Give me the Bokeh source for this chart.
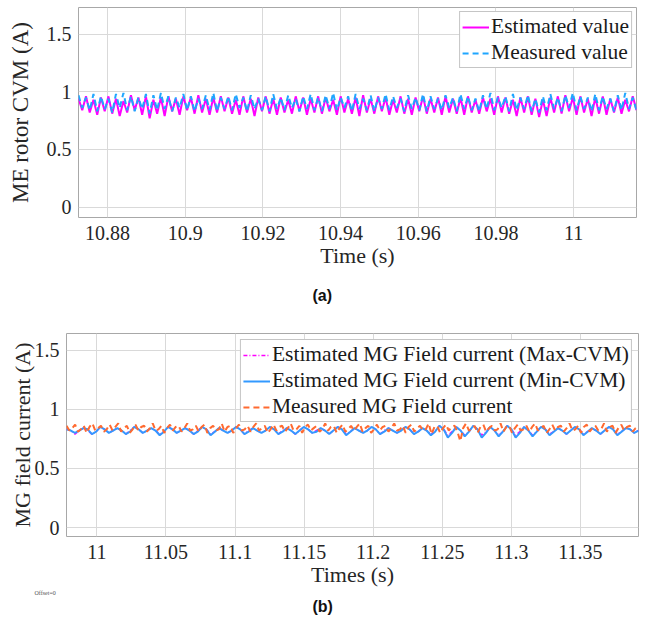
import numpy as np
from bokeh.plotting import figure
from bokeh.layouts import column, row
from bokeh.models import Range1d, FixedTicker, Title
from bokeh.embed import file_html
from bokeh.resources import INLINE

# ---------------- data: panel (a) ----------------
a_t_start, a_t_end = 10.8725, 11.0162
a_xticks = [10.88, 10.9, 10.92, 10.94, 10.96, 10.98, 11.0]
a_xlabels = ["10.88", "10.9", "10.92", "10.94", "10.96", "10.98", "11"]
yticks = [0, 0.5, 1, 1.5]
ylabels = ["0", "0.5", "1", "1.5"]

a_estimated = [
    0.94, 0.84, 0.96, 0.82, 0.93, 0.80, 0.95, 0.83, 0.96, 0.81, 0.94, 0.79, 0.92, 0.82, 0.97, 0.84, 0.95, 0.80, 0.96, 0.77,
    0.93, 0.81, 0.95, 0.79, 0.96, 0.83, 0.94, 0.80, 0.96, 0.84, 0.95, 0.81, 0.97, 0.82, 0.94, 0.80, 0.95, 0.82, 0.96, 0.83,
    0.95, 0.81, 0.93, 0.80, 0.96, 0.82, 0.94, 0.79, 0.95, 0.83, 0.96, 0.81, 0.94, 0.80, 0.95, 0.82, 0.93, 0.81, 0.96, 0.83,
    0.95, 0.80, 0.94, 0.82, 0.96, 0.81, 0.95, 0.83, 0.93, 0.80, 0.96, 0.82, 0.94, 0.81, 0.95, 0.79, 0.97, 0.82, 0.94, 0.81,
    0.96, 0.83, 0.95, 0.80, 0.93, 0.82, 0.96, 0.81, 0.94, 0.80, 0.95, 0.83, 0.96, 0.81, 0.94, 0.82, 0.95, 0.80, 0.96, 0.82,
    0.94, 0.81, 0.95, 0.80, 0.96, 0.82, 0.93, 0.81, 0.95, 0.83, 0.94, 0.80, 0.96, 0.82, 0.95, 0.81, 0.93, 0.79, 0.95, 0.82,
    0.96, 0.80, 0.94, 0.78, 0.93, 0.79, 0.95, 0.82, 0.96, 0.81, 0.97, 0.83, 0.95, 0.80, 0.96, 0.82, 0.94, 0.79, 0.95, 0.81,
    0.96, 0.80, 0.94, 0.82, 0.95, 0.81, 0.93, 0.83, 0.96, 0.84,
]
a_measured = [
    0.97, 0.86, 0.95, 0.84, 0.98, 0.83, 0.96, 0.85, 0.94, 0.82, 0.98, 0.86, 0.99, 0.84, 0.96, 0.83, 0.95, 0.85, 0.98, 0.81,
    0.97, 0.84, 0.99, 0.85, 0.96, 0.83, 0.95, 0.86, 0.98, 0.84, 0.96, 0.83, 0.94, 0.85, 0.97, 0.84, 0.99, 0.83, 0.95, 0.85,
    0.96, 0.84, 0.98, 0.86, 0.95, 0.83, 0.97, 0.85, 0.94, 0.84, 0.96, 0.83, 0.98, 0.85, 0.95, 0.84, 0.97, 0.86, 0.94, 0.83,
    0.96, 0.85, 0.98, 0.84, 0.95, 0.83, 0.97, 0.85, 0.99, 0.84, 0.95, 0.86, 0.96, 0.83, 0.98, 0.85, 0.94, 0.84, 0.97, 0.83,
    0.95, 0.85, 0.98, 0.84, 0.96, 0.86, 0.94, 0.83, 0.97, 0.85, 0.95, 0.84, 0.98, 0.83, 0.96, 0.85, 0.94, 0.84, 0.97, 0.86,
    0.95, 0.83, 0.98, 0.85, 0.96, 0.84, 0.94, 0.83, 0.97, 0.85, 0.99, 0.84, 0.95, 0.86, 0.96, 0.83, 0.98, 0.84, 0.95, 0.85,
    0.97, 0.83, 0.94, 0.82, 0.96, 0.84, 0.98, 0.85, 0.95, 0.83, 0.97, 0.86, 0.99, 0.84, 0.96, 0.85, 0.95, 0.83, 0.98, 0.84,
    0.96, 0.85, 0.94, 0.83, 0.97, 0.84, 0.99, 0.85, 0.95, 0.84,
]

# ---------------- data: panel (b) ----------------
b_t_start, b_t_end = 10.978, 11.392
b_xticks = [11.0, 11.05, 11.1, 11.15, 11.2, 11.25, 11.3, 11.35]
b_xlabels = ["11", "11.05", "11.1", "11.15", "11.2", "11.25", "11.3", "11.35"]

b_min_cvm = [
    0.83, 0.82, 0.80, 0.82, 0.84, 0.83, 0.79, 0.81, 0.85, 0.83, 0.80, 0.82, 0.84, 0.82, 0.79, 0.81,
    0.85, 0.83, 0.80, 0.82, 0.84, 0.82, 0.78, 0.81, 0.85, 0.83, 0.80, 0.82, 0.84, 0.82, 0.79, 0.81,
    0.85, 0.83, 0.78, 0.81, 0.84, 0.82, 0.80, 0.82, 0.85, 0.83, 0.79, 0.81, 0.84, 0.82, 0.80, 0.82,
    0.85, 0.83, 0.79, 0.81, 0.84, 0.82, 0.79, 0.82, 0.85, 0.83, 0.80, 0.81, 0.84, 0.82, 0.79, 0.82,
    0.85, 0.83, 0.78, 0.81, 0.84, 0.82, 0.80, 0.82, 0.85, 0.83, 0.79, 0.81, 0.84, 0.82, 0.80, 0.82,
    0.85, 0.83, 0.79, 0.81, 0.84, 0.82, 0.78, 0.81, 0.86, 0.83, 0.76, 0.80, 0.85, 0.82, 0.77, 0.81,
    0.86, 0.83, 0.76, 0.80, 0.85, 0.82, 0.77, 0.81, 0.86, 0.83, 0.76, 0.80, 0.85, 0.82, 0.77, 0.81,
    0.85, 0.83, 0.78, 0.81, 0.84, 0.82, 0.79, 0.82, 0.85, 0.83, 0.78, 0.81, 0.84, 0.82, 0.79, 0.82,
    0.85, 0.83, 0.78, 0.81, 0.84, 0.83, 0.80, 0.82,
]
b_max_cvm = [
    0.83, 0.82, 0.79, 0.82, 0.84, 0.82, 0.79, 0.81, 0.85, 0.83, 0.80, 0.82, 0.84, 0.82, 0.79, 0.82,
    0.85, 0.83, 0.80, 0.82, 0.84, 0.82, 0.79, 0.81, 0.85, 0.83, 0.80, 0.82, 0.84, 0.82, 0.79, 0.82,
    0.85, 0.83, 0.79, 0.81, 0.84, 0.82, 0.80, 0.82, 0.85, 0.83, 0.79, 0.82, 0.84, 0.82, 0.80, 0.82,
    0.85, 0.83, 0.79, 0.82, 0.84, 0.82, 0.79, 0.82, 0.85, 0.83, 0.80, 0.82, 0.84, 0.82, 0.79, 0.82,
    0.85, 0.83, 0.79, 0.81, 0.84, 0.82, 0.80, 0.82, 0.85, 0.83, 0.79, 0.82, 0.84, 0.82, 0.80, 0.82,
    0.85, 0.83, 0.79, 0.81, 0.84, 0.82, 0.79, 0.81, 0.86, 0.83, 0.78, 0.81, 0.85, 0.82, 0.78, 0.81,
    0.86, 0.83, 0.78, 0.81, 0.85, 0.82, 0.78, 0.81, 0.86, 0.83, 0.78, 0.81, 0.85, 0.82, 0.78, 0.81,
    0.85, 0.83, 0.79, 0.81, 0.84, 0.82, 0.79, 0.82, 0.85, 0.83, 0.79, 0.81, 0.84, 0.82, 0.79, 0.82,
    0.85, 0.83, 0.79, 0.81, 0.84, 0.83, 0.80, 0.82,
]
b_measured = [
    0.86, 0.82, 0.84, 0.87, 0.81, 0.83, 0.86, 0.80, 0.85, 0.88,
    0.82, 0.84, 0.86, 0.81, 0.83, 0.87, 0.82, 0.85, 0.88, 0.81,
    0.84, 0.86, 0.80, 0.83, 0.87, 0.82, 0.85, 0.86, 0.81, 0.84,
    0.88, 0.82, 0.83, 0.86, 0.80, 0.84, 0.87, 0.82, 0.85, 0.86,
    0.81, 0.84, 0.88, 0.82, 0.83, 0.86, 0.81, 0.85, 0.87, 0.80,
    0.84, 0.86, 0.82, 0.83, 0.88, 0.81, 0.85, 0.86, 0.80, 0.84,
    0.87, 0.82, 0.83, 0.86, 0.81, 0.85, 0.88, 0.82, 0.84, 0.86,
    0.80, 0.83, 0.87, 0.82, 0.85, 0.86, 0.81, 0.84, 0.88, 0.82,
    0.83, 0.86, 0.80, 0.85, 0.87, 0.82, 0.84, 0.86, 0.81, 0.83,
    0.88, 0.82, 0.85, 0.86, 0.80, 0.84, 0.87, 0.81, 0.83, 0.86,
    0.82, 0.85, 0.88, 0.81, 0.84, 0.86, 0.80, 0.83, 0.87, 0.82,
    0.85, 0.86, 0.81, 0.84, 0.88, 0.82, 0.83, 0.86, 0.80, 0.85,
    0.87, 0.81, 0.84, 0.86, 0.82, 0.83, 0.88, 0.79, 0.85, 0.86,
    0.80, 0.84, 0.87, 0.82, 0.85, 0.86, 0.81, 0.73, 0.84, 0.88,
    0.82, 0.83, 0.86, 0.80, 0.85, 0.87, 0.81, 0.84, 0.86, 0.82,
    0.83, 0.88, 0.81, 0.85, 0.86, 0.80, 0.84, 0.87, 0.82, 0.83,
    0.86, 0.81, 0.85, 0.88, 0.82, 0.84, 0.86, 0.80, 0.83, 0.87,
    0.82, 0.85, 0.86, 0.81, 0.84, 0.88, 0.82, 0.83, 0.86, 0.80,
    0.85, 0.87, 0.81, 0.84, 0.86, 0.82, 0.83, 0.88, 0.81, 0.85,
    0.86, 0.80, 0.84, 0.87, 0.82, 0.85, 0.86, 0.81, 0.84, 0.85,
]

SERIF = "Liberation Serif"
SANS = "Liberation Sans"
GRID = "#d9d9d9"
FRAME = "#a8a8a8"
TXT = "#262626"


def style(p, xticks, xlabels, xlabel, ylabel, ylabel_standoff, ylabel_size):
    p.outline_line_color = FRAME
    p.outline_line_width = 1
    p.background_fill_color = "white"
    p.border_fill_color = "white"
    for ax in (p.xaxis[0], p.yaxis[0]):
        ax.axis_line_color = None
        ax.major_tick_line_color = None
        ax.minor_tick_line_color = None
        ax.major_tick_out = 0
        ax.major_tick_in = 0
        ax.major_label_text_font = SERIF
        ax.major_label_text_font_size = "20px"
        ax.major_label_text_color = TXT
        ax.axis_label_text_font = SERIF
        ax.axis_label_text_font_size = "22px"
        ax.axis_label_text_font_style = "normal"
        ax.axis_label_text_color = TXT
    p.yaxis[0].axis_label_text_font_size = ylabel_size
    p.xaxis[0].ticker = FixedTicker(ticks=xticks)
    p.xaxis[0].major_label_overrides = {t: l for t, l in zip(xticks, xlabels)}
    p.xaxis[0].axis_label = xlabel
    p.xaxis[0].major_label_standoff = 8
    p.xaxis[0].axis_label_standoff = 0
    p.yaxis[0].ticker = FixedTicker(ticks=yticks)
    p.yaxis[0].major_label_overrides = {t: l for t, l in zip(yticks, ylabels)}
    p.yaxis[0].axis_label = ylabel
    p.yaxis[0].major_label_standoff = 7
    p.yaxis[0].axis_label_standoff = ylabel_standoff
    p.xgrid.grid_line_color = GRID
    p.ygrid.grid_line_color = GRID
    p.xgrid.grid_line_width = 1
    p.ygrid.grid_line_width = 1


def style_legend(p, margin, row_h):
    lg = p.legend[0]
    lg.location = "top_right"
    lg.margin = margin
    lg.padding = 2
    lg.spacing = 1
    lg.label_text_font = SERIF
    lg.label_text_font_size = "21.5px"
    lg.label_text_color = "#1a1a1a"
    lg.glyph_width = 27
    lg.glyph_height = row_h
    lg.label_height = row_h
    lg.label_standoff = 2
    lg.border_line_color = "#8c8c8c"
    lg.border_line_width = 1
    lg.background_fill_alpha = 1.0


def caption(p, text, offset, standoff, font, size, style_, color):
    t = Title(text=text, align="left", offset=offset, standoff=standoff,
              vertical_align="top", text_font=font, text_font_style=style_,
              text_font_size=size, text_color=color)
    p.add_layout(t, "below")


# ---------------- figure (a) ----------------
p1 = figure(width=637, height=321, output_backend="svg", toolbar_location=None,
            x_range=Range1d(a_t_start, a_t_end), y_range=Range1d(-0.09, 1.73),
            min_border_left=78, min_border_right=1, min_border_top=7, min_border_bottom=0)
ta = np.linspace(a_t_start, a_t_end, len(a_estimated))
p1.line(ta, a_estimated, line_color="#ff00ff", line_width=2, legend_label="Estimated value")
p1.line(ta, a_measured, line_color="#1fa6ff", line_width=2, line_dash="6 4",
        legend_label="Measured value")
style(p1, a_xticks, a_xlabels, "Time (s)", "ME rotor CVM (A)", 11, "23px")
style_legend(p1, 4, 24)
caption(p1, "(a)", 234, 32, SANS, "16px", "bold", "#111111")

# ---------------- figure (b) ----------------
p2 = figure(width=639, height=295, output_backend="svg", toolbar_location=None,
            x_range=Range1d(b_t_start, b_t_end), y_range=Range1d(-0.076, 1.64),
            min_border_left=66, min_border_right=1, min_border_top=12, min_border_bottom=0)
tb = np.linspace(b_t_start, b_t_end, len(b_min_cvm))
tbm = np.linspace(b_t_start, b_t_end, len(b_measured))
p2.line(tb, b_max_cvm, line_color="#ff00ff", line_width=1.5, line_dash="4 2 1 2",
        legend_label="Estimated MG Field current (Max-CVM)")
p2.line(tb, b_min_cvm, line_color="#3399ff", line_width=2,
        legend_label="Estimated MG Field current (Min-CVM)")
p2.line(tbm, b_measured, line_color="#ff6a30", line_width=2, line_dash="6 4",
        legend_label="Measured MG Field current")
style(p2, b_xticks, b_xlabels, "Times (s)", "MG field current (A)", -3, "22px")
style_legend(p2, 6, 22)
caption(p2, "Offset=0", -32, 0, SERIF, "6px", "normal", "#555555")
caption(p2, "(b)", 246, 0, SANS, "16px", "bold", "#111111")

layout = column(p1, row(p2), spacing=0)
open("out.html", "w").write(file_html(layout, INLINE))
